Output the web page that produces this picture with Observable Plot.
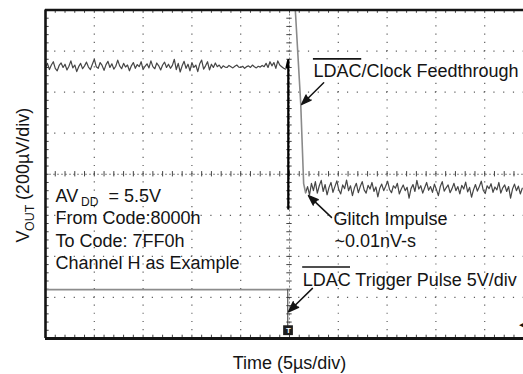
<!DOCTYPE html>
<html><head><meta charset="utf-8">
<script src="https://cdn.jsdelivr.net/npm/d3@7"></script>
<script src="https://cdn.jsdelivr.net/npm/@observablehq/plot@0.6"></script>
<style>body{margin:0;background:#fff}</style>
</head><body><div id="chart"></div>
<script>
// ---- data (oscilloscope divisions: x = 5 µs/div, y = 200 µV/div for VOUT) ----
const sampleStep = 0.04;
const beforeStart = 0;
const beforeY = [2.60,2.70,2.55,2.66,2.74,2.58,2.52,2.65,2.71,2.60,
  2.68,2.54,2.63,2.76,2.59,2.66,2.50,2.62,2.70,2.57,
  2.64,2.73,2.61,2.55,2.68,2.80,2.62,2.58,2.72,2.65,
  2.53,2.67,2.75,2.60,2.69,2.56,2.63,2.78,2.64,2.57,
  2.70,2.61,2.66,2.52,2.64,2.72,2.58,2.67,2.62,2.74,
  2.55,2.63,2.69,2.59,2.76,2.62,2.57,2.71,2.64,2.54,
  2.66,2.73,2.60,2.68,2.58,2.65,2.80,2.55,2.70,2.49,
  2.64,2.75,2.58,2.68,2.52,2.72,2.60,2.66,2.50,2.69,
  2.78,2.56,2.64,2.74,2.54,2.68,2.60,2.71,2.62,2.66,
  2.58,2.64,2.61,2.60,2.65,2.62,2.59,2.63,2.66,2.61,
  2.60,2.63,2.58,2.62,2.64,2.60,2.66,2.62,2.59,2.63,
  2.61,2.65,2.62,2.70,2.60,2.74,2.64,2.72,2.58,2.76,
  2.66,2.62,2.58,2.56];
const afterStart = 5.33;
const afterY = [-0.45,-0.30,-0.50,-0.22,-0.40,-0.18,-0.46,-0.28,-0.15,-0.42,
  -0.25,-0.50,-0.32,-0.20,-0.44,-0.30,-0.16,-0.38,-0.48,-0.26,
  -0.35,-0.14,-0.40,-0.28,-0.52,-0.33,-0.22,-0.45,-0.30,-0.18,
  -0.38,-0.46,-0.27,-0.36,-0.20,-0.42,-0.31,-0.55,-0.34,-0.24,
  -0.40,-0.29,-0.17,-0.37,-0.45,-0.28,-0.34,-0.22,-0.48,-0.36,
  -0.26,-0.40,-0.32,-0.58,-0.35,-0.25,-0.42,-0.15,-0.36,-0.28,
  -0.46,-0.33,-0.20,-0.39,-0.30,-0.44,-0.24,-0.37,-0.52,-0.30,
  -0.18,-0.41,-0.33,-0.26,-0.45,-0.35,-0.22,-0.40,-0.30,-0.48,
  -0.27,-0.36,-0.19,-0.43,-0.32,-0.56,-0.38,-0.25,-0.41,-0.30,
  -0.17,-0.39,-0.47,-0.28,-0.35,-0.23,-0.44,-0.31,-0.38,-0.20,
  -0.46,-0.33,-0.26,-0.42,-0.30,-0.58,-0.36,-0.24,-0.40,-0.29,
  -0.48,-0.34];
// feedthrough edge (black) and glitch decay (gray)
const edgeX = [4.94, 4.975, 4.975];
const edgeY = [2.60, 2.78, -0.84];
const decayX = [5.08, 5.12, 5.23, 5.29, 5.33];
const decayY = [4.30, 3.98, 1.72, -0.23, -0.45];
// LDAC trigger pulse (5 V/div)
const pulseX = [0, 4.965];
const pulseY = [-2.81, -2.81];
const pulseEdgeX = [4.965, 4.965];
const pulseEdgeY = [-2.81, -3.69];

// grid
const xDomain = [0, 9.795];
const yDomain = [-4, 4];
const xGrid = [1,2,3,4,6,7,8,9];
const yGrid = [-3,-2,-1,1,2,3];

// annotations
const notes = [
  {x: 5.49, y: 2.50, t: "LDAC/Clock Feedthrough"},
  {x: 5.90, y: -1.09, t: "Glitch Impulse"},
  {x: 5.92, y: -1.63, t: "~0.01nV-s"},
  {x: 5.27, y: -2.57, t: "LDAC Trigger Pulse 5V/div"},
  {x: 0.205, y: -0.54, t: "AV"},
  {x: 1.29, y: -0.54, t: "= 5.5V"},
  {x: 0.205, y: -1.08, t: "From Code:8000h"},
  {x: 0.205, y: -1.63, t: "To Code: 7FF0h"},
  {x: 0.205, y: -2.17, t: "Channel H as Example"}
];
const subNotes = [{x: 0.73, y: -0.68, t: "DD"}];
const overlines = [
  {x1: 5.49, x2: 6.48, y: 2.81},
  {x1: 5.27, x2: 6.25, y: -2.26}
];
const arrows = [
  {x1: 5.70, y1: 2.23, x2: 5.25, y2: 1.70},
  {x1: 5.86, y1: -1.05, x2: 5.39, y2: -0.52},
  {x1: 5.47, y1: -2.78, x2: 4.98, y2: -3.35}
];
const xLabel = [{x: 5, y: -4.60, t: "Time (5µs/div)"}];
const yLabelMain = [{x: -0.447, y: -1.66, t: "V"}, {x: -0.447, y: -0.63, t: "(200µV/div)"}];
const yLabelSub = [{x: -0.324, y: -1.38, t: "OUT"}];
const trigMark = [{x1: 4.88, x2: 5.08, y1: -3.69, y2: -3.93}];
const levelMark = [{x: 9.76, y: -3.66, t: "◀"}];

// ---- build ----
const mk = (xs, ys) => ys.map((y, i) => ({x: xs[i], y}));
const before = beforeY.map((y, i) => ({x: beforeStart + i * sampleStep, y}));
const after = afterY.map((y, i) => ({x: afterStart + i * sampleStep, y}));
const minorX = d3.range(0, 9.8, 0.2);
const minorY = d3.range(-4, 4.001, 0.2);
const ink = "#141414";
const FONT = "'Liberation Sans', Arial, Helvetica, sans-serif";

const chart = Plot.plot({
  width: 523, height: 374,
  marginLeft: 45, marginRight: 0, marginTop: 9.5, marginBottom: 36,
  x: {domain: xDomain, axis: null},
  y: {domain: yDomain, axis: null},
  style: {fontFamily: FONT, background: "white", color: ink, overflow: "visible"},
  marks: [
    Plot.ruleX(xGrid, {stroke: "#5e5e5e", strokeWidth: 1.2, strokeDasharray: "1.2,7.01", strokeDashoffset: 0.6}),
    Plot.ruleY(yGrid, {stroke: "#5e5e5e", strokeWidth: 1.2, strokeDasharray: "1.2,8.56", strokeDashoffset: 0.6}),
    Plot.ruleY([0], {stroke: "#8a8a8a", strokeWidth: 1, strokeDasharray: "2,2"}),
    Plot.ruleX([5], {stroke: "#8a8a8a", strokeWidth: 1, strokeDasharray: "2,2"}),
    Plot.ruleX(minorX, {y1: -0.065, y2: 0.065, stroke: "#444", strokeWidth: 1}),
    Plot.ruleY(minorY, {x1: 4.945, x2: 5.055, stroke: "#444", strokeWidth: 1}),
    Plot.ruleY(minorY, {x1: 0, x2: 0.075, stroke: "#444", strokeWidth: 1}),
    Plot.ruleX(minorX, {y1: 4, y2: 3.92, stroke: "#444", strokeWidth: 1}),
    Plot.ruleX(minorX, {y1: -4, y2: -3.92, stroke: "#444", strokeWidth: 1}),
    // traces
    Plot.line(mk(pulseX, pulseY), {x: "x", y: "y", stroke: "#8c8c8c", strokeWidth: 1.7}),
    Plot.line(mk(pulseEdgeX, pulseEdgeY), {x: "x", y: "y", stroke: "#333", strokeWidth: 1}),
    Plot.line(before, {x: "x", y: "y", stroke: "#454545", strokeWidth: 1.2, clip: true}),
    Plot.line(after, {x: "x", y: "y", stroke: "#454545", strokeWidth: 1.2, clip: true}),
    Plot.line(mk(decayX, decayY), {x: "x", y: "y", stroke: "#8a8a8a", strokeWidth: 1.6, clip: true}),
    Plot.line(mk(edgeX, edgeY), {x: "x", y: "y", stroke: "#000", strokeWidth: 2.2}),
    // frame
    Plot.ruleX([0], {stroke: ink, strokeWidth: 2.6}),
    Plot.ruleY([4], {stroke: ink, strokeWidth: 2.6}),
    Plot.ruleY([-4], {stroke: ink, strokeWidth: 3}),
    // markers
    Plot.rect(trigMark, {x1: "x1", x2: "x2", y1: "y1", y2: "y2", fill: "#1e1e1e"}),
    Plot.text([{x: 4.98, y: -3.81}], {x: "x", y: "y", text: () => "T", fill: "white", fontSize: 8, fontWeight: "bold"}),
    Plot.text(levelMark, {x: "x", y: "y", text: "t", fontSize: 7, fill: ink}),
    // annotations
    Plot.arrow(arrows, {x1: "x1", y1: "y1", x2: "x2", y2: "y2", stroke: ink, fill: ink, strokeWidth: 1.5, headLength: 11, headAngle: 40}),
    Plot.ruleY(overlines, {x1: "x1", x2: "x2", y: "y", stroke: ink, strokeWidth: 1.6}),
    Plot.text(notes, {x: "x", y: "y", text: "t", textAnchor: "start", fontSize: 18, fill: ink}),
    Plot.text(subNotes, {x: "x", y: "y", text: "t", textAnchor: "start", fontSize: 12, fill: ink}),
    Plot.text(xLabel, {x: "x", y: "y", text: "t", textAnchor: "middle", fontSize: 18, fill: ink}),
    Plot.text(yLabelMain, {x: "x", y: "y", text: "t", textAnchor: "start", rotate: -90, fontSize: 18, fill: ink}),
    Plot.text(yLabelSub, {x: "x", y: "y", text: "t", textAnchor: "start", rotate: -90, fontSize: 12.5, fill: ink})
  ]
});
document.getElementById("chart").appendChild(chart);
</script>
</body></html>
